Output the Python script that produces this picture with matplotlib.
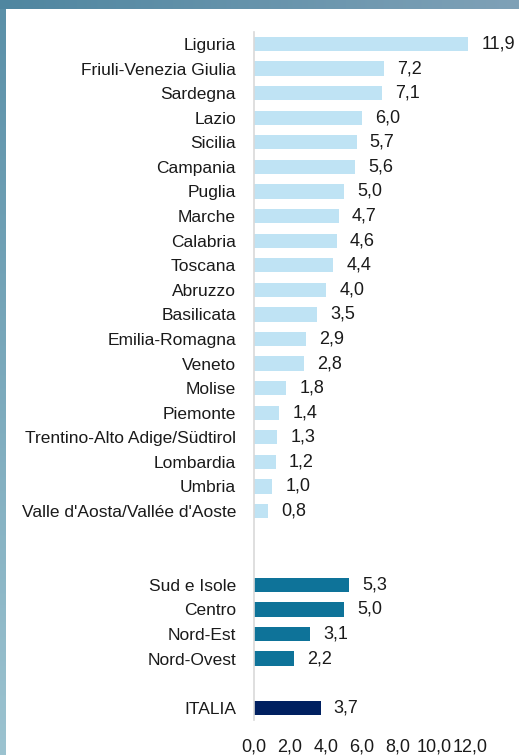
import matplotlib
matplotlib.use('Agg')
import matplotlib.pyplot as plt
import numpy as np

regioni = ["Liguria", "Friuli-Venezia Giulia", "Sardegna", "Lazio", "Sicilia",
           "Campania", "Puglia", "Marche", "Calabria", "Toscana", "Abruzzo",
           "Basilicata", "Emilia-Romagna", "Veneto", "Molise", "Piemonte",
           "Trentino-Alto Adige/Südtirol", "Lombardia", "Umbria",
           "Valle d'Aosta/Vallée d'Aoste"]
valori_regioni = [11.9, 7.2, 7.1, 6.0, 5.7, 5.6, 5.0, 4.7, 4.6, 4.4, 4.0,
                  3.5, 2.9, 2.8, 1.8, 1.4, 1.3, 1.2, 1.0, 0.8]
ripartizioni = ["Sud e Isole", "Centro", "Nord-Est", "Nord-Ovest"]
valori_ripartizioni = [5.3, 5.0, 3.1, 2.2]
italia = ["ITALIA"]
valore_italia = [3.7]
xticks = [0, 2, 4, 6, 8, 10, 12]

c_reg = '#bfe3f4'
c_rip = '#0e7399'
c_ita = '#002060'

W, H = 519, 755
fig = plt.figure(figsize=(W / 100, H / 100), dpi=100)
fig.patch.set_facecolor('white')

# background frame (watery blue strip top and left)
bg = fig.add_axes([0, 0, 1, 1], zorder=-1)
bg.set_xlim(0, W)
bg.set_ylim(H, 0)
bg.axis('off')
grad = np.linspace(0, 1, 256).reshape(1, -1)
bg.imshow(grad, extent=(0, W, 9, 0), aspect='auto',
          cmap=matplotlib.colors.LinearSegmentedColormap.from_list('t', ['#4f86a0', '#7fa1b7']))
vgrad = np.linspace(0, 1, 256).reshape(-1, 1)
bg.imshow(vgrad, extent=(0, 6, H, 9), aspect='auto',
          cmap=matplotlib.colors.LinearSegmentedColormap.from_list('l', ['#5b90a8', '#9cc3d0']))

# positions: regions 0..19, gap, ripartizioni 22..25, gap, Italia 27
pos_reg = list(range(len(regioni)))
pos_rip = [22 + i for i in range(len(ripartizioni))]
pos_ita = [27]

left, right = 254 / W, 470 / W
top, bottom = 1 - 31.7 / H, 1 - 720 / H
ax = fig.add_axes([left, bottom, right - left, top - bottom])
ax.set_facecolor('none')

bh = 0.58
ax.barh(pos_reg, valori_regioni, height=bh, color=c_reg)
ax.barh(pos_rip, valori_ripartizioni, height=bh, color=c_rip)
ax.barh(pos_ita, valore_italia, height=bh, color=c_ita)

font = 'Liberation Sans'
txt = '#1a1a1a'
for p, v in zip(pos_reg + pos_rip + pos_ita, valori_regioni + valori_ripartizioni + valore_italia):
    ax.annotate(f"{v:.1f}".replace('.', ','), (v, p), xytext=(9.5, 0), textcoords='offset points',
                va='center', ha='left', fontsize=13, family=font, color=txt)

ax.set_ylim(27.5, -0.5)
ax.set_xlim(0, 12)
ax.set_yticks(pos_reg + pos_rip + pos_ita)
ax.set_yticklabels(regioni + ripartizioni + italia, fontsize=12.5, family=font, color=txt)
ax.set_xticks(xticks)
ax.set_xticklabels([f"{t:.1f}".replace('.', ',') for t in xticks], fontsize=13, family=font,
                   color=txt)
ax.tick_params(axis='y', length=0, pad=13)
ax.tick_params(axis='x', length=0, pad=13)
for s in ['top', 'right', 'bottom']:
    ax.spines[s].set_visible(False)
ax.spines['left'].set_color('#d9d9d9')
ax.spines['left'].set_linewidth(1.2)

fig.savefig('out.png', dpi=100)
